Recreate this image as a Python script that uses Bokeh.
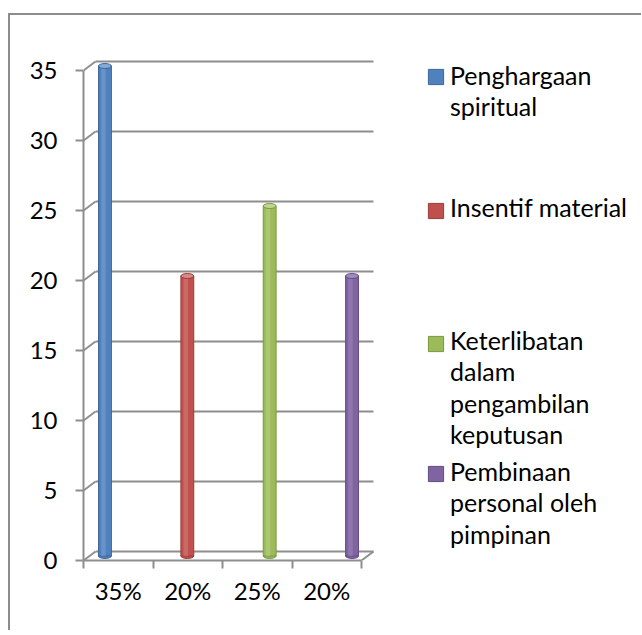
from bokeh.plotting import figure
from bokeh.models import (Range1d, FixedTicker, Legend, LegendItem,
                          ColumnDataSource)
from bokeh.embed import file_html
from bokeh.resources import INLINE

# ---------------- data ----------------
categories = ["35%", "20%", "25%", "20%"]
series_names = ["Penghargaan spiritual", "Insentif material",
                "Keterlibatan dalam pengambilan keputusan",
                "Pembinaan personal oleh pimpinan"]
legend_lines = [["Penghargaan", "spiritual"],
                ["Insentif material"],
                ["Keterlibatan", "dalam", "pengambilan", "keputusan"],
                ["Pembinaan", "personal oleh", "pimpinan"]]
values = [35, 20, 25, 20]
y_ticks = [0, 5, 10, 15, 20, 25, 30, 35]

# ---------------- style ----------------
colors = ["#4F81BD", "#C0504D", "#9BBB59", "#8064A2"]
lights = ["#86A9D6", "#D88986", "#BFD68F", "#A28BC0"]
darks = ["#3C6699", "#9B3B38", "#7A9742", "#634C82"]
FONT = "Lato"
LINE = "#8E8E8E"

n = len(categories)
cat_x = [i + 1 for i in range(n)]
PX_PER_CAT = 69.5
PX_PER_UNIT = 14
FRAME_W = 558
FRAME_H = 504
DX = 12 / PX_PER_CAT      # oblique depth (x, in category units)
DY = 9 / PX_PER_UNIT      # oblique depth (y, in value units)
SLOT = 0.185
BAR_W = 0.185
CAP_H = 5 / PX_PER_UNIT

p = figure(frame_width=FRAME_W, frame_height=FRAME_H,
           min_border_left=73, min_border_right=0,
           min_border_top=41, min_border_bottom=70,
           x_range=Range1d(0.5, 0.5 + FRAME_W / PX_PER_CAT),
           y_range=Range1d(0, FRAME_H / PX_PER_UNIT),
           output_backend="svg", toolbar_location=None,
           styles={"margin-left": "8px", "margin-top": "13px",
                   "border-left": "2px solid #8C8C8C",
                   "border-top": "2px solid #8C8C8C"})
p.grid.visible = False
p.outline_line_color = None
p.background_fill_color = "white"
p.border_fill_color = "white"

# y axis
ya = p.yaxis[0]
ya.ticker = FixedTicker(ticks=y_ticks)
ya.bounds = (0, max(y_ticks))
ya.axis_line_color = LINE
ya.axis_line_width = 2
ya.major_tick_line_color = LINE
ya.major_tick_line_width = 2
ya.major_tick_out = 8
ya.major_tick_in = 0
ya.minor_tick_line_color = None
ya.major_label_text_font = FONT
ya.major_label_text_font_size = "24px"
ya.major_label_text_color = "black"
ya.major_label_standoff = 18

# x axis
xa = p.xaxis[0]
xa.ticker = FixedTicker(ticks=cat_x,
                        minor_ticks=[c - 0.5 for c in cat_x] + [cat_x[-1] + 0.5])
xa.bounds = (0.5, n + 0.5)
xa.major_label_overrides = {c: lab for c, lab in zip(cat_x, categories)}
xa.axis_line_color = LINE
xa.axis_line_width = 2
xa.major_tick_line_color = None
xa.major_tick_out = 0
xa.major_tick_in = 0
xa.minor_tick_line_color = LINE
xa.minor_tick_line_width = 2
xa.minor_tick_out = 8
xa.minor_tick_in = 0
xa.major_label_text_font = FONT
xa.major_label_text_font_size = "24px"
xa.major_label_text_color = "black"
xa.major_label_standoff = 7

# back wall grid lines and floor (oblique 3D look)
x_left = 0.5
x_right = n + 0.5
p.segment(x0=[x_left + DX] * len(y_ticks), y0=[t + DY for t in y_ticks],
          x1=[x_right + DX] * len(y_ticks), y1=[t + DY for t in y_ticks],
          line_color=LINE, line_width=2)
p.segment(x0=[x_left] * len(y_ticks), y0=y_ticks,
          x1=[x_left + DX] * len(y_ticks), y1=[t + DY for t in y_ticks],
          line_color=LINE, line_width=2)
p.segment(x0=[x_right], y0=[0], x1=[x_right + DX], y1=[DY],
          line_color=LINE, line_width=2)

# cylinders
renderers = []
for j, (v, c, lc, dc) in enumerate(zip(values, colors, lights, darks)):
    x = cat_x[j] + (j - 1.5) * SLOT + DX / 2
    src = ColumnDataSource(dict(x=[x], top=[v + DY / 2], bottom=[DY / 2]))
    p.ellipse(x="x", y="bottom", width=BAR_W, height=CAP_H, source=src,
              fill_color=c, line_color=dc, line_width=1)
    r = p.vbar(x="x", top="top", bottom="bottom", width=BAR_W, source=src,
               fill_color=c, line_color=dc, line_width=1)
    p.vbar(x=[x - BAR_W * 0.12], top=[v + DY / 2], bottom=[DY / 2],
           width=BAR_W * 0.35, fill_color=lc, fill_alpha=0.45, line_color=None)
    p.ellipse(x="x", y="top", width=BAR_W, height=CAP_H, source=src,
              fill_color=lc, line_color=dc, line_width=1)
    renderers.append(r)

# invisible glyph used only to indent the legend text lines
ghost = p.vbar(x=[], top=[], width=0.1, fill_alpha=0, line_alpha=0)

# legend: Excel spreads the entries; swatch aligned with first text line
FB = 560 - 15                     # canvas y of the frame bottom
CANVAS_TOP = 15                   # page y of the canvas top
swatch_y = [75.5, 209, 342, 472.5]    # page y of swatch centres
first_line_y = [77, 209, 342, 473]    # page y of first text line centres
PITCH = 31.5                          # text line pitch, px
common = dict(background_fill_alpha=0, border_line_color=None,
              padding=0, margin=0, spacing=0, label_text_font=FONT,
              label_text_font_size="25px", label_text_color="black")
for lines, r, sy, fy in zip(legend_lines, renderers, swatch_y, first_line_y):
    sw = Legend(items=[LegendItem(label=" ", renderers=[r])],
                location=(343, FB - (sy - CANVAS_TOP + 10.5)),
                glyph_width=19, glyph_height=19, label_standoff=0, **common)
    p.add_layout(sw)
    for k, line in enumerate(lines):
        ly = fy + k * PITCH
        tx = Legend(items=[LegendItem(label=line, renderers=[ghost])],
                    location=(345, FB - (ly - CANVAS_TOP + 12.5)),
                    glyph_width=15, glyph_height=15, label_standoff=7,
                    **common)
        p.add_layout(tx)

open("out.html", "w").write(file_html(p, INLINE))
